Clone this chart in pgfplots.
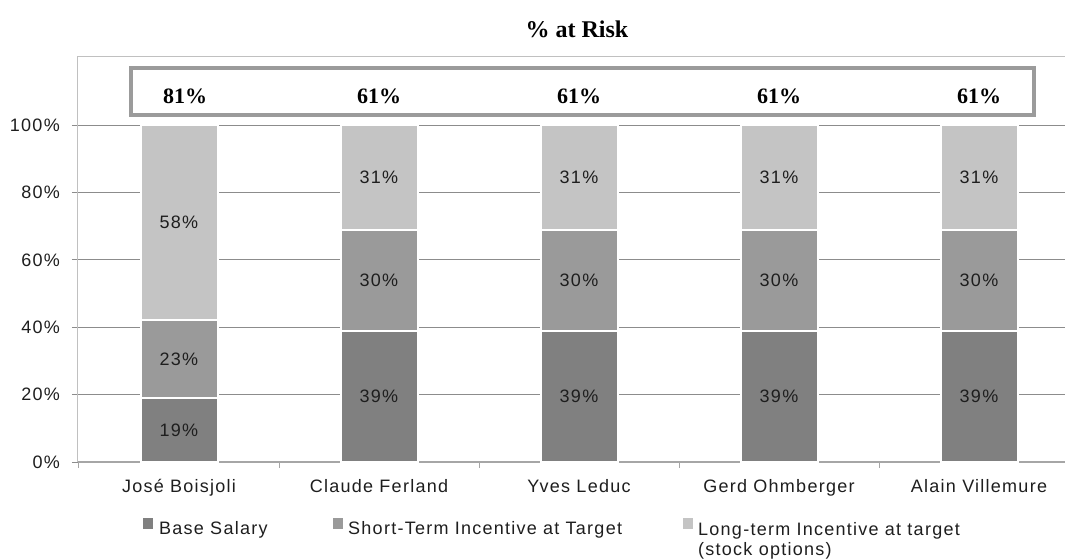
\documentclass[border=0pt]{standalone}
\usepackage{fontspec}
\setmainfont{Liberation Sans}[LetterSpace=7]
\newfontfamily\serifb{Liberation Serif}
\usepackage{pgfplots}
\pgfplotsset{compat=1.18}
\definecolor{cBase}{HTML}{808080}
\definecolor{cShort}{HTML}{9A9A9A}
\definecolor{cLong}{HTML}{C4C4C4}
\definecolor{cGrid}{HTML}{8C8C8C}
\definecolor{cFrame}{HTML}{C0C0C0}
\definecolor{cAxis}{HTML}{A6A6A6}
\definecolor{cBox}{HTML}{9B9B9B}
\definecolor{cText}{HTML}{1E1E1E}
\pgfplotsset{sqleg/.style={legend image code/.code={\fill[##1, draw=none] (0pt,0pt) rectangle (10pt,11pt);}}}
\begin{document}
\begin{tikzpicture}
\useasboundingbox (-78pt,-96pt) rectangle (987pt,462pt);
\begin{axis}[
  at={(0pt,0pt)}, anchor=south west,
  scale only axis, width=987pt, height=406pt,
  xmin=-0.505, xmax=4.43, ymin=0, ymax=120.5,
  axis x line*=bottom, axis y line*=left,
  x axis line style={draw=cAxis, line width=2pt, -},
  y axis line style={draw=cFrame, line width=1pt, -},
  tick align=outside, major tick length=6pt,
  ytick={0,20,40,60,80,100},
  yticklabels={0\%,20\%,40\%,60\%,80\%,100\%},
  ytick style={draw=cGrid, line width=1pt},
  ymajorgrids, grid style={draw=cGrid, line width=1pt},
  xtick={0,1,2,3,4},
  xticklabels={José Boisjoli,Claude Ferland,Yves Leduc,Gerd Ohmberger,Alain Villemure},
  xtick style={draw=none},
  extra x ticks={-0.5,0.5,1.5,2.5,3.5},
  extra x tick labels={},
  extra x tick style={grid=none, xtick style={draw=cAxis, line width=1pt}},
  every tick label/.append style={font=\fontsize{18}{20}\selectfont, text=cText},
  yticklabel style={anchor=east, inner sep=0pt, xshift=-12pt},
  xticklabel style={anchor=base, inner sep=0pt, yshift=-24pt},
  title={\% at Risk},
  title style={font=\serifb\bfseries\fontsize{24}{26}\selectfont, at={(axis description cs:0.5056,1)}, anchor=base, yshift=13pt},
  legend style={draw=none, fill=none, inner sep=0pt, column sep=0pt,
    nodes={inner sep=0pt},
    font=\fontsize{18}{20}\selectfont, text=cText,
    at={(axis description cs:0.06586,-0.137)}, anchor=north west},
  legend columns=3,
  legend cell align=left,
]
% legend
\addlegendimage{fill=cBase, sqleg}
\addlegendentry{\makebox[180pt][l]{\hspace{6pt}Base Salary}}
\addlegendimage{fill=cShort, sqleg}
\addlegendentry{\makebox[340pt][l]{\hspace{5pt}Short-Term Incentive at Target}}
\addlegendimage{fill=cLong, sqleg}
\addlegendentry{\hspace{5pt}\begin{tabular}[t]{@{}l@{}}Long-term Incentive at target\\(stock options)\end{tabular}}
% bars (cumulative heights, drawn from tallest to shortest)
\addplot[ybar, bar width=77pt, bar shift=0pt, fill=cLong, draw=white, line width=2pt, forget plot]
  coordinates {(0,100) (1,100) (2,100) (3,100) (4,100)};
\addplot[ybar, bar width=77pt, bar shift=0pt, fill=cShort, draw=white, line width=2pt, forget plot]
  coordinates {(0,42) (1,69) (2,69) (3,69) (4,69)};
\addplot[ybar, bar width=77pt, bar shift=0pt, fill=cBase, draw=white, line width=2pt, forget plot]
  coordinates {(0,19) (1,39) (2,39) (3,39) (4,39)};
% segment labels
\addplot[draw=none, forget plot, nodes near coords, point meta=explicit symbolic,
  every node near coord/.style={anchor=center, font=\fontsize{18}{20}\selectfont, text=cText}]
  coordinates {(0,9.5)[19\%] (1,19.5)[39\%] (2,19.5)[39\%] (3,19.5)[39\%] (4,19.5)[39\%]
               (0,30.5)[23\%] (1,54)[30\%] (2,54)[30\%] (3,54)[30\%] (4,54)[30\%]
               (0,71)[58\%] (1,84.5)[31\%] (2,84.5)[31\%] (3,84.5)[31\%] (4,84.5)[31\%]};
% % at risk totals
\addplot[draw=none, forget plot, nodes near coords, point meta=explicit symbolic,
  every node near coord/.style={anchor=center, font=\serifb\bfseries\fontsize{22}{24}\selectfont, text=black}]
  coordinates {(0.03,108.6)[81\%] (1,108.6)[61\%] (2,108.6)[61\%] (3,108.6)[61\%] (4,108.6)[61\%]};
\draw[cBox, line width=4pt] (axis cs:-0.24,103) rectangle (axis cs:4.275,116.9);
\draw[cFrame, line width=1pt] (rel axis cs:0,1) -- (rel axis cs:1,1);
\end{axis}
\end{tikzpicture}
\end{document}
